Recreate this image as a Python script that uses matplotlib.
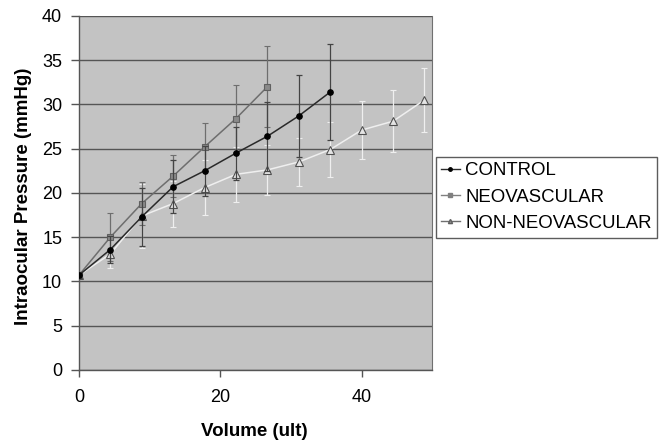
import matplotlib
matplotlib.use("Agg")
import matplotlib.pyplot as plt
from matplotlib.lines import Line2D
import numpy as np

plt.rcParams['font.family'] = ['Liberation Sans', 'DejaVu Sans']

step = 40.0 / 9.0
volume_control = [0, 1, 2, 3, 4, 5, 6, 7, 8]
volume_neo = [0, 1, 2, 3, 4, 5, 6]
volume_nonneo = [0, 1, 2, 3, 4, 5, 6, 7, 8, 9, 10, 11]

control = [10.7, 13.6, 17.3, 20.7, 22.5, 24.5, 26.4, 28.7, 31.4]
control_err = [0.3, 1.5, 3.3, 3.0, 2.8, 3.0, 3.9, 4.6, 5.4]
neo = [10.7, 15.0, 18.8, 21.9, 25.2, 28.4, 32.0]
neo_err = [0.3, 2.7, 2.4, 2.4, 2.7, 3.8, 4.6]
nonneo = [10.7, 13.1, 17.4, 18.8, 20.6, 22.1, 22.6, 23.5, 24.9, 27.1, 28.1, 30.5]
nonneo_err = [0.4, 1.6, 3.6, 2.6, 3.1, 3.1, 2.8, 2.7, 3.1, 3.3, 3.5, 3.6]

labels = ['CONTROL', 'NEOVASCULAR', 'NON-NEOVASCULAR']

fig = plt.figure(figsize=(6.63, 4.42), dpi=100)
ax = fig.add_axes([0.119, 0.163, 0.533, 0.801])
ax.set_facecolor('#c3c3c3')

xc = np.array(volume_control) * step
xn = np.array(volume_neo) * step
xnn = np.array(volume_nonneo) * step

ax.errorbar(xnn, nonneo, yerr=nonneo_err, color='#efefef', ecolor='#efefef',
            elinewidth=0.9, capsize=2.5, capthick=0.9, lw=1.1, marker='^', ms=5.5,
            mfc='#e4e4e4', mec='#505050', mew=0.8, zorder=3)
ax.errorbar(xn, neo, yerr=neo_err, color='#6e6e6e', ecolor='#6e6e6e',
            elinewidth=0.9, capsize=2.5, capthick=0.9, lw=1.1, marker='s', ms=4,
            mfc='#8a8a8a', mec='#606060', mew=0.8, zorder=4)
ax.errorbar(xc, control, yerr=control_err, color='#2a2a2a', ecolor='#444444',
            elinewidth=0.9, capsize=2.5, capthick=0.9, lw=1.1, marker='o', ms=3.8,
            mfc='black', mec='black', zorder=5)

ax.set_xlim(0, 50)
ax.set_ylim(0, 40)
ax.set_yticks(np.arange(0, 41, 5))
ax.set_xticks([0, 20, 40])
ax.yaxis.grid(True, color='#555555', lw=1.0)
ax.set_axisbelow(True)
for s in ['left', 'bottom']:
    ax.spines[s].set_color('#555555')
    ax.spines[s].set_linewidth(1.0)
ax.spines['right'].set_color('#707070')
ax.spines['top'].set_visible(False)
ax.tick_params(axis='y', labelsize=13, colors='#555555', labelcolor='black',
               length=6, width=1.0, pad=6)
ax.tick_params(axis='x', labelsize=13, colors='#555555', labelcolor='black',
               length=5, width=1.0, pad=9)

ax.set_xlabel('Volume (ult)', fontsize=13.5, fontweight='bold')
ax.set_ylabel('Intraocular Pressure (mmHg)', fontsize=13.5, fontweight='bold')
ax.xaxis.set_label_coords(0.497, -0.15)
ax.yaxis.set_label_coords(-0.133, 0.49)

handles = [
    Line2D([], [], color='#2a2a2a', lw=1.0, marker='o', ms=2.5, mfc='black', mec='black'),
    Line2D([], [], color='#808080', lw=1.0, marker='s', ms=2.5, mfc='#808080', mec='#808080'),
    Line2D([], [], color='#707070', lw=1.0, marker='^', ms=3, mfc='#909090', mec='#606060'),
]
leg = fig.legend(handles, labels, loc='upper left', bbox_to_anchor=(0.657, 0.6455),
                 borderaxespad=0, fontsize=13.4, frameon=True, fancybox=False,
                 edgecolor='#333333', handlelength=1.0, handletextpad=0.3,
                 borderpad=0.3, labelspacing=0.5)
leg.get_frame().set_linewidth(1.0)

fig.savefig('out.png', dpi=100)
